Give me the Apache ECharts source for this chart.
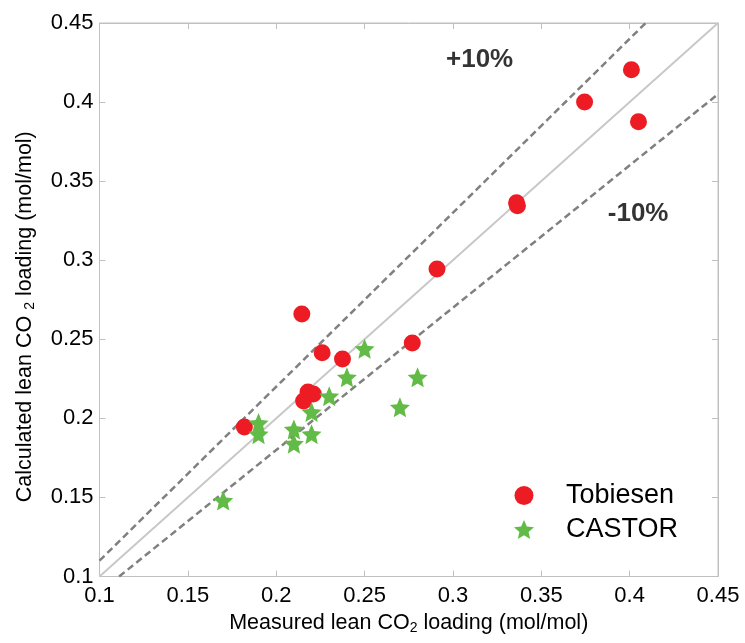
<!DOCTYPE html>
<html>
<head>
<meta charset="utf-8">
<script src="https://cdn.jsdelivr.net/npm/echarts@6/dist/echarts.min.js"></script>
<style>
  html, body { margin: 0; padding: 0; background: #fff; }
  #chart { width: 745px; height: 643px; }
</style>
</head>
<body>
<div id="chart"></div>
<script>
// Lean CO2 loading: measured (x) vs calculated (y), mol/mol
const tobiesenMeasured   = [0.182, 0.2145, 0.226, 0.2375, 0.218, 0.221, 0.2155, 0.277, 0.291, 0.336, 0.3365, 0.3745, 0.401, 0.405];
const tobiesenCalculated = [0.1945, 0.266, 0.2415, 0.2375, 0.2167, 0.2154, 0.211, 0.2477, 0.2945, 0.3363, 0.3344, 0.400, 0.4204, 0.3875];

const castorMeasured   = [0.17, 0.19, 0.19, 0.21, 0.21, 0.22, 0.22, 0.23, 0.24, 0.25, 0.27, 0.28];
const castorCalculated = [0.148, 0.197, 0.190, 0.193, 0.184, 0.204, 0.190, 0.214, 0.226, 0.244, 0.207, 0.226];

// Parity line and +/-10 % deviation lines (end points)
const parityLine = [[0.1, 0.1], [0.45, 0.45]];
const plus10Line = [[0.1, 0.11], [0.40909, 0.45]];
const minus10Line = [[0.11111, 0.1], [0.45, 0.405]];

// Band labels and where they sit
const bandLabels = ['+10%', '-10%'];
const bandLabelX = [0.3151, 0.4048];
const bandLabelY = [0.4267, 0.3293];

const STAR = 'path://M50,0 L63.52,31.39 L97.55,34.55 L71.87,57.11 L79.39,90.45 L50,73 L20.61,90.45 L28.13,57.11 L2.45,34.55 L36.48,31.39 Z';

const FONT = 'Liberation Sans, Arial, sans-serif';
const AXIS_GRAY = '#c0c0c0';
const RED = '#ED1C24';
const GREEN = '#62BB46';

const fmtTick = v => String(+v.toFixed(2));
const pairs = (xs, ys) => xs.map((x, i) => [x, ys[i]]);

const baseAxis = {
  type: 'value',
  min: 0.1,
  max: 0.45,
  interval: 0.05,
  splitLine: { show: false },
  axisLine: { show: true, lineStyle: { color: AXIS_GRAY, width: 1 } },
  axisTick: { show: true, inside: true, length: 6, lineStyle: { color: AXIS_GRAY } }
};

const nameRich = {
  a: { fontSize: 21.5, color: '#000', fontFamily: FONT, lineHeight: 24, verticalAlign: 'middle' },
  s: { fontSize: 14, color: '#000', fontFamily: FONT, lineHeight: 14, verticalAlign: 'bottom' }
};

const chart = echarts.init(document.getElementById('chart'), null, { renderer: 'canvas' });

chart.setOption({
  backgroundColor: '#fff',
  animation: false,
  textStyle: { fontFamily: FONT },
  grid: {
    left: 99.5, right: 27, top: 23, bottom: 66.5,
    outerBoundsMode: 'none',
    containLabel: false,
    show: true, borderColor: AXIS_GRAY, borderWidth: 1, backgroundColor: 'transparent'
  },
  legend: {
    orient: 'vertical',
    left: 509, top: 477,
    itemWidth: 20, itemHeight: 19,
    itemGap: 7,
    textStyle: { fontSize: 27, color: '#000', fontFamily: FONT, padding: [0, 0, 0, 27] },
    data: [
      { name: 'Tobiesen', icon: 'circle', itemStyle: { color: RED } },
      { name: 'CASTOR', icon: STAR, itemStyle: { color: GREEN } }
    ]
  },
  xAxis: [
    Object.assign({}, baseAxis, {
      position: 'bottom',
      name: '{a|Measured lean CO}{s|2}{a| loading (mol/mol)}',
      nameLocation: 'middle',
      nameGap: 35,
      nameTextStyle: { rich: nameRich },
      axisLabel: { fontSize: 22, color: '#000', margin: 8, formatter: fmtTick }
    }),
    Object.assign({}, baseAxis, {
      position: 'top',
      axisLabel: { show: false }
    })
  ],
  yAxis: [
    Object.assign({}, baseAxis, {
      position: 'left',
      name: '{a|Calculated lean CO }{s|2}{a| loading (mol/mol)}',
      nameLocation: 'middle',
      nameGap: 62,
      nameRotate: 90,
      nameTextStyle: { rich: nameRich, padding: [0, 34, 0, 0] },
      axisLabel: { fontSize: 22, color: '#000', margin: 6, formatter: fmtTick }
    }),
    Object.assign({}, baseAxis, {
      position: 'right',
      axisLabel: { show: false }
    })
  ],
  series: [
    {
      name: 'parity',
      type: 'line',
      data: parityLine,
      symbol: 'none',
      silent: true,
      lineStyle: { color: '#c8c8c8', width: 2 },
      z: 1
    },
    {
      name: 'plus10',
      type: 'line',
      data: plus10Line,
      symbol: 'none',
      silent: true,
      lineStyle: { color: '#808080', width: 2.5, type: [7, 4] },
      z: 1
    },
    {
      name: 'minus10',
      type: 'line',
      data: minus10Line,
      symbol: 'none',
      silent: true,
      lineStyle: { color: '#808080', width: 2.5, type: [7, 4] },
      z: 1
    },
    {
      name: 'Tobiesen',
      type: 'scatter',
      data: pairs(tobiesenMeasured, tobiesenCalculated),
      symbol: 'circle',
      symbolSize: 17,
      itemStyle: { color: RED, opacity: 1 },
      z: 3
    },
    {
      name: 'CASTOR',
      type: 'scatter',
      data: pairs(castorMeasured, castorCalculated),
      symbol: STAR,
      symbolSize: 20,
      itemStyle: { color: GREEN, opacity: 1 },
      z: 4
    },
    {
      name: 'bands',
      type: 'scatter',
      data: bandLabels.map((t, i) => ({ name: t, value: [bandLabelX[i], bandLabelY[i]] })),
      symbolSize: 0,
      silent: true,
      label: {
        show: true,
        position: 'inside',
        formatter: p => p.name,
        fontSize: 26,
        fontWeight: 'bold',
        color: '#000',
        fontFamily: FONT
      },
      z: 5
    }
  ]
});
</script>
</body>
</html>
